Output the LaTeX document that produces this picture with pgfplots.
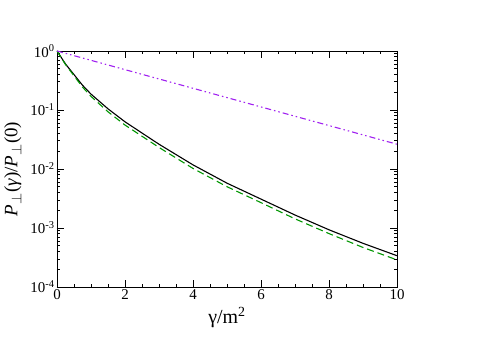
\documentclass[border=0pt]{standalone}
\usepackage{fontspec}
\setmainfont{Liberation Serif}
\usepackage{pgfplots}
\pgfplotsset{compat=1.18}
\usetikzlibrary{calc}

\definecolor{curvegreen}{RGB}{0,150,0}
\definecolor{curvepurple}{RGB}{160,32,240}

\begin{document}
\begin{tikzpicture}
\begin{semilogyaxis}[
  scale only axis,
  width=340bp, height=236bp,
  xmin=0, xmax=10,
  ymin=1e-4, ymax=1,
  xtick={0,2,4,6,8,10},
  minor x tick num=3,
  ytick={1e-4,1e-3,1e-2,1e-1,1},
  yticklabels={10\textsuperscript{-4},10\textsuperscript{-3},10\textsuperscript{-2},10\textsuperscript{-1},10\textsuperscript{0}},
  /pgf/number format/assume math mode=true,
  tick align=inside,
  major tick length=7bp,
  minor tick length=3.5bp,
  axis line style={line width=0.9pt},
  every tick/.style={black, line width=0.7pt},
  tick label style={font=\fontsize{15}{15}\selectfont},
  xlabel style={font=\fontsize{20}{20}\selectfont},
  ylabel style={font=\fontsize{19}{19}\selectfont, yshift=2bp},
  xlabel={γ/m\textsuperscript{2}},
  ylabel={\textit{P}$_\perp$(\textit{γ})/\textit{P}$_\perp$(0)},
  xticklabel style={yshift=0.5bp},
  yticklabel style={xshift=1bp},
]
% full result
\addplot[black, line width=1.1pt] coordinates {
  (0,1) (0.25,0.603) (0.5,0.398) (0.75,0.263) (1,0.186) (1.5,0.1047)
  (2,0.0631) (2.5,0.0407) (3,0.0263) (4,0.01175) (5,0.00575)
  (6,0.00309) (7,0.00166) (8,0.000933) (9,0.00055) (10,0.000339)
};
% approximation
\addplot[curvegreen, line width=1.1pt, dash pattern=on 7bp off 4bp] coordinates {
  (0,1) (0.25,0.589) (0.5,0.380) (0.75,0.245) (1,0.170) (1.5,0.0933)
  (2,0.0556) (2.5,0.0359) (3,0.0232) (4,0.01023) (5,0.00501)
  (6,0.00269) (7,0.00143) (8,0.000804) (9,0.000468) (10,0.000288)
};
% exponential
\addplot[curvepurple, line width=1.1pt, dash pattern=on 6bp off 3bp on 1.5bp off 3bp on 1.5bp off 3bp] coordinates {
  (0,1) (10,0.0263)
};
\end{semilogyaxis}
\path[use as bounding box] ($(current axis.south west)+(-57bp,-52bp)$) rectangle ++(480bp,339bp);
\end{tikzpicture}
\end{document}
